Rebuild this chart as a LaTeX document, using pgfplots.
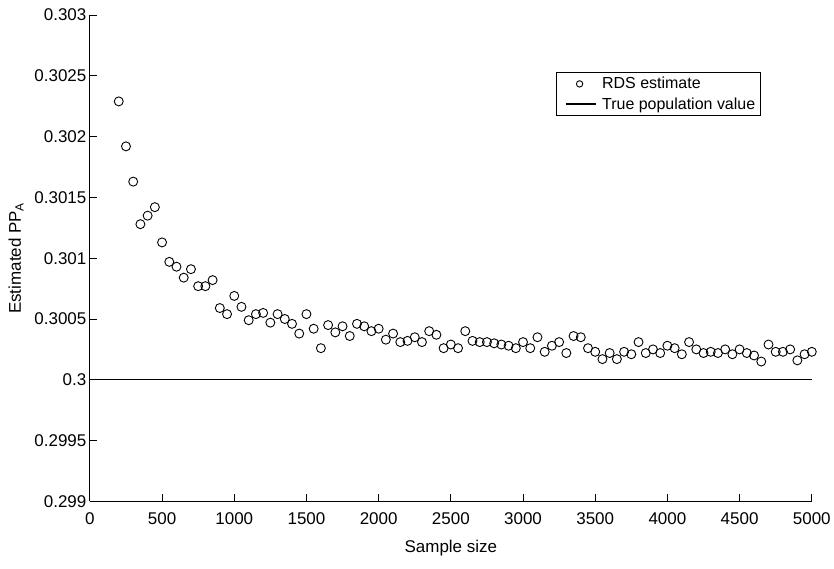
\documentclass[border=0pt]{standalone}
\usepackage{fontspec}
\setmainfont{Liberation Sans}
\usepackage{pgfplots}
\pgfplotsset{compat=1.18}
\pgfplotsset{
    rdsleg/.style={legend image code/.code={\path[draw=none, fill=none] (-6pt,0pt) -- (30pt,0pt);
        \draw[##1, mark size=3.2pt] plot coordinates {(14pt,0pt)};}},
    trueleg/.style={legend image code/.code={\path[draw=none, fill=none] (-6pt,0pt) -- (30pt,0pt);
        \draw[##1] (0pt,0pt) -- (30pt,0pt);}},
}

\begin{document}
\begin{tikzpicture}
\begin{axis}[
    width=723pt, height=487pt,
    scale only axis,
    font=\fontsize{17}{20}\selectfont,
    axis lines*=left,
    axis line style={line width=0.9pt},
    xmin=0, xmax=5000,
    ymin=0.299, ymax=0.303,
    xtick={0,500,...,5000},
    ytick={0.299,0.2995,0.3,0.3005,0.301,0.3015,0.302,0.3025,0.303},
    yticklabels={0.299,0.2995,0.3,0.3005,0.301,0.3015,0.302,0.3025,0.303},
    scaled y ticks=false,
    /pgf/number format/1000 sep={},
    /pgf/number format/assume math mode=true,
    tick align=inside,
    xtick pos=lower, ytick pos=left,
    major tick length=7pt,
    tick style={line width=0.9pt, black},
    xticklabel style={yshift=-8pt},
    xlabel={Sample size},
    ylabel={Estimated PP\textsubscript{A}},
    xlabel style={yshift=-8pt},
    ylabel style={yshift=4pt},
    clip=false,
    legend style={at={(0.646,0.883)}, anchor=north west, draw=black, line width=0.8pt,
        font=\fontsize{16}{19}\selectfont, inner xsep=3pt, inner ysep=3pt,
        row sep=3pt, column sep=4pt},
    legend cell align=left,
]
\addplot[only marks, mark=o, mark size=4.5pt, mark options={line width=0.9pt, black}, rdsleg]
coordinates {
(200,0.30229)(250,0.30192)(300,0.30163)(350,0.30128)(400,0.30135)(450,0.30142)
(500,0.30113)(550,0.30097)(600,0.30093)(650,0.30084)(700,0.30091)(750,0.30077)
(800,0.30077)(850,0.30082)(900,0.30059)(950,0.30054)(1000,0.30069)(1050,0.30060)
(1100,0.30049)(1150,0.30054)(1200,0.30055)(1250,0.30047)(1300,0.30054)(1350,0.30050)
(1400,0.30046)(1450,0.30038)(1500,0.30054)(1550,0.30042)(1600,0.30026)(1650,0.30045)
(1700,0.30039)(1750,0.30044)(1800,0.30036)(1850,0.30046)(1900,0.30044)(1950,0.30040)
(2000,0.30042)(2050,0.30033)(2100,0.30038)(2150,0.30031)(2200,0.30032)(2250,0.30035)
(2300,0.30031)(2350,0.30040)(2400,0.30037)(2450,0.30026)(2500,0.30029)(2550,0.30026)
(2600,0.30040)(2650,0.30032)(2700,0.30031)(2750,0.30031)(2800,0.30030)(2850,0.30029)
(2900,0.30028)(2950,0.30026)(3000,0.30031)(3050,0.30026)(3100,0.30035)(3150,0.30023)
(3200,0.30028)(3250,0.30031)(3300,0.30022)(3350,0.30036)(3400,0.30035)(3450,0.30026)
(3500,0.30023)(3550,0.30017)(3600,0.30022)(3650,0.30017)(3700,0.30023)(3750,0.30021)
(3800,0.30031)(3850,0.30022)(3900,0.30025)(3950,0.30022)(4000,0.30028)(4050,0.30026)
(4100,0.30021)(4150,0.30031)(4200,0.30025)(4250,0.30022)(4300,0.30023)(4350,0.30022)
(4400,0.30025)(4450,0.30021)(4500,0.30025)(4550,0.30022)(4600,0.30020)(4650,0.30015)
(4700,0.30029)(4750,0.30023)(4800,0.30023)(4850,0.30025)(4900,0.30016)(4950,0.30021)
(5000,0.30023)
};
\addlegendentry{RDS estimate}
\addplot[black, line width=1.2pt, trueleg]
    coordinates {(0,0.3)(5000,0.3)};
\addlegendentry{True population value}
\path (rel axis cs:-0.1245,-0.1376) rectangle (rel axis cs:1.029,1.031);
\end{axis}
\end{tikzpicture}
\end{document}
